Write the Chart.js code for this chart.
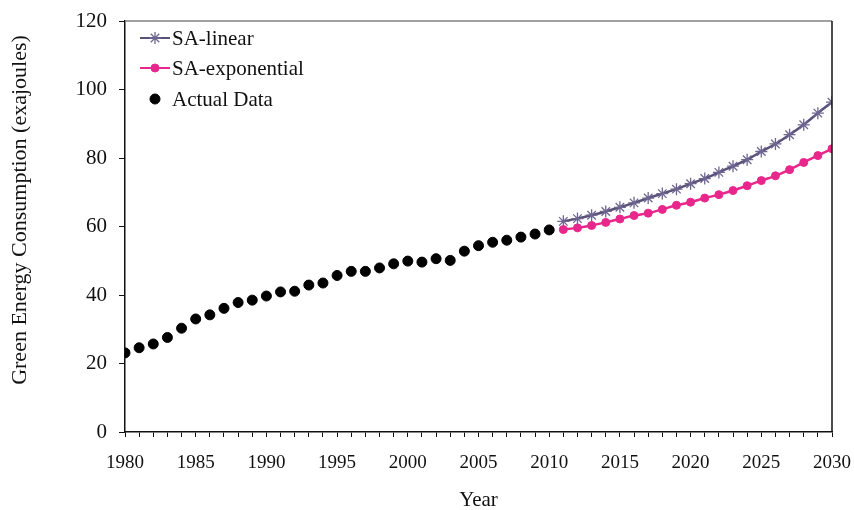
<!DOCTYPE html>
<html>
<head>
<meta charset="utf-8">
<title>Green Energy Consumption</title>
<script src="https://cdn.jsdelivr.net/npm/chart.js@4/dist/chart.umd.min.js"></script>
<style>
  html, body { margin: 0; padding: 0; background: #fff; }
  #wrap { width: 854px; height: 510px; }
</style>
</head>
<body>
<div id="wrap"><canvas id="chart" width="854" height="510"></canvas></div>
<script>
// years and values
const actualYears = [1980, 1981, 1982, 1983, 1984, 1985, 1986, 1987, 1988, 1989,
    1990, 1991, 1992, 1993, 1994, 1995, 1996, 1997, 1998, 1999,
    2000, 2001, 2002, 2003, 2004, 2005, 2006, 2007, 2008, 2009, 2010];
const actualData = [23.1, 24.6, 25.7, 27.6, 30.3, 33.0, 34.2, 36.1, 37.8, 38.5,
    39.7, 40.9, 41.1, 42.9, 43.5, 45.7, 46.9, 46.9, 47.9, 49.1,
    49.9, 49.6, 50.6, 50.1, 52.8, 54.4, 55.4, 56.0, 56.9, 57.8, 59.0];

const forecastYears = [2011, 2012, 2013, 2014, 2015, 2016, 2017, 2018, 2019, 2020,
    2021, 2022, 2023, 2024, 2025, 2026, 2027, 2028, 2029, 2030];
const saLinear = [61.5, 62.3, 63.3, 64.4, 65.6, 66.9, 68.3, 69.6, 70.9, 72.5,
    74.0, 75.8, 77.6, 79.5, 81.9, 84.1, 86.8, 89.7, 93.1, 96.3];
const saExponential = [59.1, 59.6, 60.3, 61.2, 62.2, 63.2, 63.9, 65.0, 66.2, 67.1,
    68.3, 69.3, 70.5, 71.9, 73.4, 74.8, 76.6, 78.7, 80.7, 82.7];

const yTicks = [0, 20, 40, 60, 80, 100, 120];
const yTitle = 'Green Energy Consumption (exajoules)';

const LINEAR_COLOR = '#5a5178';
const LINEAR_MARK = '#6e6690';
const EXP_COLOR = '#e8278c';
const FONT = "'Liberation Serif', 'Times New Roman', serif";

function pts(xs, ys) {
    return xs.map((x, i) => ({ x: x, y: ys[i] }));
}

// box round the plot: grey top line, black right line
const frame = {
    id: 'frame',
    afterDraw(chart) {
        const a = chart.chartArea;
        const ctx = chart.ctx;
        ctx.save();
        ctx.lineWidth = 1.5;
        ctx.strokeStyle = '#808080';
        ctx.beginPath();
        ctx.moveTo(a.left, a.top);
        ctx.lineTo(a.right, a.top);
        ctx.stroke();
        ctx.strokeStyle = '#111';
        ctx.beginPath();
        ctx.moveTo(a.right, a.top);
        ctx.lineTo(a.right, a.bottom);
        ctx.stroke();

        // y title sits a bit above the middle in the original
        ctx.translate(20, 210);
        ctx.rotate(-Math.PI / 2);
        ctx.font = '22px ' + FONT;
        ctx.fillStyle = '#111';
        ctx.textAlign = 'center';
        ctx.textBaseline = 'middle';
        ctx.fillText(yTitle, 0, 0);
        ctx.restore();
    }
};

// legend in the top-left corner, line + marker like the original
const cornerLegend = {
    id: 'cornerLegend',
    afterDraw(chart) {
        const ctx = chart.ctx;
        const a = chart.chartArea;
        const x0 = a.left + 15, x1 = a.left + 45;
        const rows = [a.top + 17, a.top + 47, a.top + 78];
        ctx.save();
        ctx.font = '21px ' + FONT;
        ctx.textBaseline = 'middle';

        chart.data.datasets.forEach((ds, i) => {
            const y = rows[i];
            if (ds.showLine) {
                ctx.strokeStyle = ds.borderColor;
                ctx.lineWidth = 2;
                ctx.beginPath();
                ctx.moveTo(x0, y);
                ctx.lineTo(x1, y);
                ctx.stroke();
            }
            ctx.fillStyle = ds.pointBackgroundColor;
            ctx.strokeStyle = ds.pointBorderColor;
            ctx.lineWidth = ds.pointBorderWidth;
            Chart.helpers.drawPoint(ctx, {
                pointStyle: ds.pointStyle,
                radius: ds.pointRadius,
                borderWidth: ds.pointBorderWidth
            }, (x0 + x1) / 2, y);
            ctx.fillStyle = '#111';
            ctx.fillText(ds.label, x1 + 2, y + 1);
        });
        ctx.restore();
    }
};

const ctx = document.getElementById('chart').getContext('2d');

const chart = new Chart(ctx, {
    type: 'scatter',
    data: {
        datasets: [
            {
                label: 'SA-linear',
                data: pts(forecastYears, saLinear),
                showLine: true,
                borderColor: LINEAR_COLOR,
                borderWidth: 2.5,
                pointStyle: 'star',
                pointRadius: 6,
                pointBorderWidth: 1.3,
                pointBorderColor: LINEAR_MARK,
                pointBackgroundColor: LINEAR_MARK,
                tension: 0.3
            },
            {
                label: 'SA-exponential',
                data: pts(forecastYears, saExponential),
                showLine: true,
                borderColor: EXP_COLOR,
                borderWidth: 2.5,
                pointStyle: 'circle',
                pointRadius: 4,
                pointBorderWidth: 1,
                pointBorderColor: EXP_COLOR,
                pointBackgroundColor: EXP_COLOR,
                tension: 0.3
            },
            {
                label: 'Actual Data',
                data: pts(actualYears, actualData),
                showLine: false,
                borderColor: '#000',
                pointStyle: 'circle',
                pointRadius: 5,
                pointBorderWidth: 1,
                pointBorderColor: '#000',
                pointBackgroundColor: '#000'
            }
        ]
    },
    options: {
        responsive: false,
        animation: false,
        layout: {
            padding: { top: 21, right: 22, left: 0, bottom: 0 }
        },
        plugins: {
            legend: { display: false },
            tooltip: { enabled: false }
        },
        scales: {
            x: {
                type: 'linear',
                min: 1980,
                max: 2030,
                afterFit(scale) {
                    scale.height = 78;
                    scale.paddingLeft = 0;
                    scale.paddingRight = 0;
                },
                border: { display: true, color: '#111', width: 1.5 },
                grid: {
                    drawOnChartArea: false,
                    drawTicks: true,
                    tickLength: 5,
                    color: '#111',
                    lineWidth: 1
                },
                ticks: {
                    stepSize: 1,
                    autoSkip: false,
                    maxRotation: 0,
                    padding: 15,
                    color: '#111',
                    font: { family: FONT, size: 19 },
                    callback: v => (v % 5 === 0 ? String(v) : '')
                },
                title: {
                    display: true,
                    text: 'Year',
                    color: '#111',
                    font: { family: FONT, size: 21 },
                    padding: { top: 0, bottom: -3 }
                }
            },
            y: {
                min: 0,
                max: 120,
                afterFit(scale) {
                    scale.width = 125;
                    scale.paddingTop = 0;
                    scale.paddingBottom = 0;
                },
                afterBuildTicks(scale) { scale.ticks = yTicks.map(v => ({ value: v })); },
                border: { display: true, color: '#111', width: 1.5 },
                grid: {
                    drawOnChartArea: false,
                    drawTicks: true,
                    tickLength: 6,
                    color: '#111'
                },
                ticks: {
                    padding: 12,
                    color: '#111',
                    font: { family: FONT, size: 21 }
                },
                title: { display: false }
            }
        }
    },
    plugins: [frame, cornerLegend]
});
</script>
</body>
</html>
